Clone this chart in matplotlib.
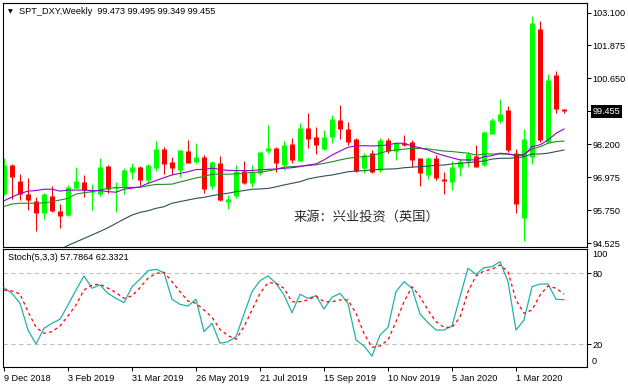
import numpy as np
import pandas as pd
import matplotlib
matplotlib.use('Agg')
import matplotlib.pyplot as plt

# weekly OHLC, SPT_DXY, bars from 9 Dec 2018
opens = [96.35, 97.43, 96.84, 96.35, 96.09, 95.64, 96.28, 95.72, 95.57, 96.59,
         96.80, 96.43, 96.35, 97.39, 96.56, 96.62, 97.18, 97.37, 96.87, 97.33,
         98.03, 97.53, 97.25, 97.95, 97.55, 97.74, 96.65, 97.52, 96.07, 96.28,
         97.21, 96.77, 97.12, 97.95, 98.07, 97.43, 98.21, 97.59, 98.79, 98.46,
         98.02, 98.46, 99.10, 98.76, 98.40, 97.31, 97.86, 97.25, 98.36, 97.96,
         98.24, 98.30, 97.68, 97.06, 97.68, 96.90, 96.81, 97.37, 97.59, 97.78,
         97.44, 98.58, 99.08, 99.48, 97.86, 95.47, 97.74, 102.49, 98.30, 100.78,
         99.473]
highs = [97.70, 97.45, 97.10, 96.95, 96.25, 96.40, 96.65, 95.98, 96.69, 97.37,
         97.06, 96.72, 97.70, 97.43, 96.79, 97.33, 97.49, 97.39, 97.47, 98.32,
         98.09, 97.72, 97.99, 98.36, 98.26, 97.80, 97.59, 97.78, 96.32, 97.43,
         97.59, 97.43, 97.93, 98.92, 98.11, 98.33, 98.42, 99.00, 99.37, 98.83,
         98.73, 99.29, 99.66, 99.04, 98.43, 97.89, 97.99, 98.42, 98.45, 98.30,
         98.55, 98.36, 97.68, 97.74, 97.80, 97.18, 97.58, 97.64, 97.93, 98.17,
         98.71, 99.17, 99.88, 99.62, 98.03, 98.77, 102.97, 102.78, 100.81, 100.94,
         99.495]
lows = [96.32, 96.17, 96.13, 95.76, 94.99, 95.42, 95.70, 95.10, 95.53, 96.56,
        96.23, 95.76, 96.28, 96.40, 95.70, 96.35, 96.91, 96.69, 96.71, 97.21,
        97.10, 97.10, 96.99, 97.52, 97.52, 96.40, 96.54, 96.09, 95.80, 96.21,
        96.71, 96.62, 97.06, 97.87, 97.18, 97.25, 97.52, 97.59, 98.05, 97.83,
        97.99, 98.24, 98.39, 98.17, 97.17, 97.12, 97.12, 97.18, 97.87, 97.62,
        98.15, 97.35, 96.65, 96.90, 96.87, 96.34, 96.50, 97.02, 97.37, 97.34,
        97.40, 98.58, 99.00, 97.93, 95.66, 94.62, 97.46, 98.30, 98.26, 99.35,
        99.349]
closes = [97.43, 97.00, 96.35, 96.13, 95.66, 96.35, 95.73, 95.55, 96.60, 96.84,
          96.50, 96.48, 97.37, 96.53, 96.62, 97.25, 97.37, 96.87, 97.43, 98.03,
          97.46, 97.31, 97.99, 97.52, 97.74, 96.54, 97.55, 96.13, 96.17, 97.21,
          96.75, 97.16, 97.93, 98.07, 97.52, 98.17, 97.62, 98.79, 98.39, 98.17,
          98.46, 99.13, 98.76, 98.28, 97.21, 97.80, 97.18, 98.36, 97.95, 98.24,
          98.17, 97.62, 97.14, 97.68, 96.94, 96.85, 97.35, 97.59, 97.83, 97.37,
          98.66, 99.10, 99.33, 97.99, 95.99, 98.40, 102.72, 98.36, 100.59, 99.50,
          99.455]

# moving averages
ma_fast = [96.10, 96.24, 96.37, 96.46, 96.48, 96.53, 96.53, 96.46, 96.50, 96.50,
           96.50, 96.48, 96.48, 96.44, 96.42, 96.53, 96.57, 96.62, 96.75, 96.85,
           96.96, 97.06, 97.12, 97.18, 97.26, 97.27, 97.31, 97.27, 97.23, 97.23,
           97.22, 97.23, 97.25, 97.27, 97.28, 97.31, 97.33, 97.37, 97.43, 97.47,
           97.62, 97.80, 97.95, 98.09, 98.14, 98.15, 98.14, 98.15, 98.18, 98.24,
           98.24, 98.14, 98.07, 97.99, 97.87, 97.78, 97.70, 97.62, 97.62, 97.62,
           97.74, 97.78, 97.87, 97.84, 97.78, 97.80, 98.11, 98.18, 98.36, 98.61,
           98.77]
ma_mid = [95.89, 95.98, 96.01, 96.01, 96.01, 96.02, 96.07, 96.13, 96.19, 96.35,
          96.40, 96.44, 96.50, 96.56, 96.59, 96.59, 96.60, 96.60, 96.66, 96.71,
          96.71, 96.72, 96.80, 96.87, 96.95, 97.00, 97.09, 97.09, 97.09, 97.10,
          97.12, 97.16, 97.16, 97.21, 97.27, 97.35, 97.37, 97.39, 97.41, 97.44,
          97.49, 97.55, 97.62, 97.68, 97.72, 97.74, 97.77, 97.87, 97.95, 97.99,
          98.02, 98.05, 98.05, 98.03, 97.99, 97.95, 97.93, 97.90, 97.87, 97.80,
          97.84, 97.84, 97.84, 97.84, 97.80, 97.83, 98.02, 98.11, 98.24, 98.30,
          98.32]
ma_slow = [np.nan] * 7 + [
           94.29, 94.44, 94.57,
           94.70, 94.83, 94.96, 95.10, 95.26, 95.42, 95.57, 95.67, 95.73, 95.82,
           95.88, 96.01, 96.07, 96.13, 96.19, 96.23, 96.29, 96.34, 96.38, 96.44,
           96.48, 96.53, 96.54, 96.56, 96.62, 96.69, 96.75, 96.81, 96.91, 96.97,
           97.02, 97.06, 97.12, 97.18, 97.21, 97.22, 97.25, 97.27, 97.28, 97.29,
           97.33, 97.35, 97.37, 97.39, 97.42, 97.43, 97.47, 97.49, 97.52, 97.55,
           97.58, 97.65, 97.68, 97.68, 97.70, 97.74, 97.84, 97.84, 97.87, 97.93,
           97.99]

# Stoch(5,3,3)
stoch_k = [67.9, 63.1, 54.7, 32.1, 20.3, 33.6, 37.8, 41.2, 53.3, 65.9,
           77.8, 67.4, 70.2, 63.1, 58.9, 55.2, 68.7, 75.0, 82.3, 83.4,
           80.6, 58.1, 53.8, 52.4, 58.1, 30.7, 37.8, 20.9, 22.2, 26.5,
           45.6, 64.5, 73.8, 77.8, 71.6, 61.7, 46.7, 62.3, 58.9, 61.1,
           49.9, 59.8, 63.1, 54.7, 23.7, 18.6, 10.1, 27.9, 34.4, 64.5,
           73.0, 67.4, 45.6, 38.3, 32.1, 32.1, 35.5, 60.3, 84.3, 79.2,
           84.8, 85.6, 89.9, 73.0, 32.1, 40.6, 68.7, 71.0, 71.0, 58.1,
           57.7864]
stoch_d = [65.9, 65.1, 62.6, 47.6, 34.4, 29.3, 30.7, 35.5, 44.0, 53.3,
           65.9, 70.2, 70.8, 67.4, 63.7, 58.9, 60.9, 67.9, 75.8, 80.0,
           80.9, 73.0, 64.5, 56.6, 54.7, 49.0, 42.9, 32.7, 27.3, 24.3,
           34.9, 49.0, 63.1, 72.1, 71.6, 67.4, 56.0, 56.0, 57.5, 60.9,
           56.0, 56.0, 57.5, 57.5, 46.2, 29.3, 17.5, 18.6, 23.7, 39.1,
           56.0, 68.7, 60.3, 49.0, 39.1, 34.4, 34.4, 42.9, 64.5, 77.8,
           82.0, 83.4, 87.1, 81.4, 57.5, 46.2, 49.0, 61.7, 69.3, 67.4,
           62.3321]

price_ticks = [94.525, 95.750, 96.975, 98.200, 99.455, 100.650, 101.875, 103.100]
last_price = 99.455
stoch_levels = [20, 80]

dates = pd.date_range('2018-12-09', periods=len(closes), freq='7D')
x = np.arange(len(closes))

plt.rcParams['font.family'] = ['Liberation Sans', 'DejaVu Sans']
FS = 6.6

W, H = 628, 386
fig = plt.figure(figsize=(W / 100, H / 100), dpi=100)
fig.patch.set_facecolor('white')

def fx(px):
    return px / W

def fy(py):
    return 1 - py / H

ax = fig.add_axes([fx(3), fy(246.5), fx(584), (246.5 - 2.7) / H])
ax2 = fig.add_axes([fx(3), fy(367.3), fx(584), (367.3 - 248.5) / H])

# candles: wick 1px, body 5px, both centred on the bar
o, h, l, c = map(np.array, (opens, highs, lows, closes))
cols = np.where(c > o, '#00ff00', '#ff0000')
body_lo = np.minimum(o, c)
body_hi = np.maximum(np.maximum(o, c), body_lo + 0.04)
ax.vlines(x, l, h, colors=cols, linewidth=0.75, zorder=2)
ax.vlines(x, body_lo, body_hi, colors=cols, linewidth=3.6, capstyle='butt', zorder=2)

ax.plot(x, ma_slow, color='#2f4f4f', lw=0.8, zorder=3)
ax.plot(x, ma_mid, color='#228b22', lw=0.8, zorder=3)
ax.plot(x, ma_fast, color='#9400d3', lw=0.8, zorder=3)

ax.set_xlim(-0.125, 72.875)
ax.set_ylim(94.401, 103.465)
ax.set_xticks([])
ax.yaxis.tick_right()
ax.set_yticks(price_ticks)
ax.set_yticklabels([f'{t:.3f}' for t in price_ticks])
ax.tick_params(axis='y', direction='out', length=3, width=0.72, pad=1.2, labelsize=FS)
for t, lbl in zip(price_ticks, ax.get_yticklabels()):
    if t == last_price:
        lbl.set_color('white')
        lbl.set_bbox(dict(facecolor='black', edgecolor='none', pad=1.3))

ax.text(0.6224, 0.121, '来源：兴业投资（英国）', transform=ax.transAxes,
        ha='center', va='center', fontsize=9.5, color='#2b2b2b',
        family=['Noto Sans CJK SC', 'DejaVu Sans'])

# stochastic
for lv in stoch_levels:
    ax2.axhline(lv, color='#c0c0c0', lw=0.8, linestyle=(0, (4, 3)), zorder=1)
ax2.plot(x, stoch_k, color='#20b2aa', lw=0.9, zorder=3)
ax2.plot(x, stoch_d, color='#ff0000', lw=0.9, linestyle=(0, (2.5, 2.5)), zorder=3)
ax2.set_xlim(-0.125, 72.875)
ax2.set_ylim(0.6, 101.0)
ax2.yaxis.tick_right()
ax2.set_yticks(stoch_levels)
ax2.set_yticklabels([str(v) for v in stoch_levels])
ax2.tick_params(axis='y', direction='out', length=3, width=0.72, pad=1.2, labelsize=FS)
ax2.annotate('100', xy=(1, 100), xycoords=('axes fraction', 'data'),
             xytext=(5, -5), textcoords='offset pixels', va='center', fontsize=FS)
ax2.annotate('0', xy=(1, 0), xycoords=('axes fraction', 'data'),
             xytext=(5, 7), textcoords='offset pixels', va='center', fontsize=FS)

xt = x[::8][:9]
ax2.set_xticks(xt)
ax2.set_xticklabels([f'{d.day} {d:%b %Y}' for d in dates[xt]], ha='left')
ax2.tick_params(axis='x', direction='out', length=3, width=0.72, pad=2, labelsize=FS)

for a in (ax, ax2):
    for s in a.spines.values():
        s.set_linewidth(0.8)
        s.set_color('black')

fig.text(fx(8), fy(12), '▼', fontsize=4.5, va='center', ha='left', family='DejaVu Sans')
fig.text(fx(19), fy(12), 'SPT_DXY,Weekly  99.473 99.495 99.349 99.455',
         fontsize=FS, va='center', ha='left')
fig.text(fx(8), fy(257.3), 'Stoch(5,3,3) 57.7864 62.3321',
         fontsize=FS, va='center', ha='left')

fig.savefig('out.png', dpi=100)
